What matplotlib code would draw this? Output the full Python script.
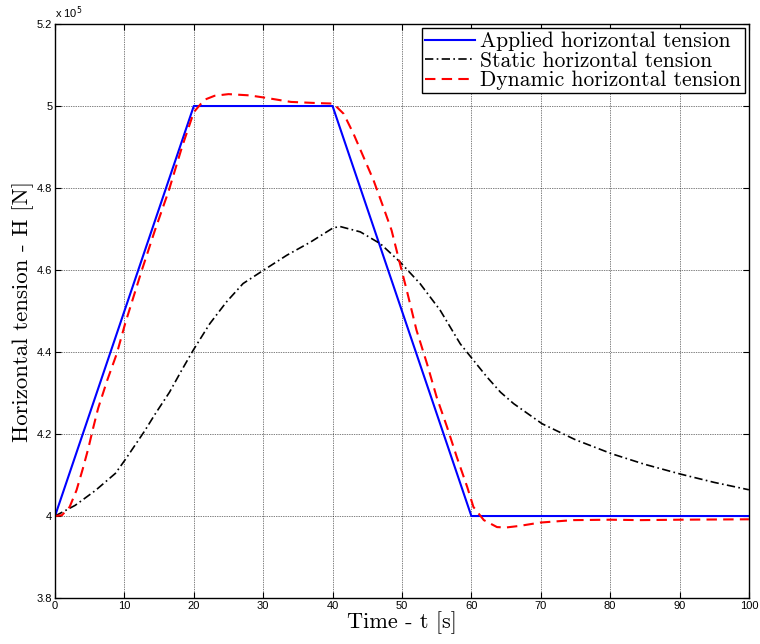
import matplotlib
matplotlib.use("Agg")
import matplotlib.pyplot as plt
from matplotlib.ticker import FuncFormatter

# time [s] and tension [x 1e5 N]
t_applied = [0, 20, 40, 60, 100]
h_applied = [4.0, 5.0, 5.0, 4.0, 4.0]

t_static = [0, 2.9, 5.8, 8.7, 10.1, 12.9, 14.4, 16.5, 18.2, 19.9, 22.3, 24.7, 27.1,
            30.0, 33.4, 36.8, 40.1, 41.1, 44.0, 46.9, 49.7, 52.6, 55.5, 58.4, 60.3,
            62.2, 64.2, 66.1, 70.2, 75, 80.2, 85, 90.2, 95, 100]
h_static = [4.0, 4.026, 4.062, 4.104, 4.137, 4.207, 4.248, 4.302, 4.354, 4.404, 4.469,
            4.522, 4.567, 4.599, 4.636, 4.668, 4.703, 4.706, 4.693, 4.664, 4.620,
            4.567, 4.502, 4.420, 4.380, 4.340, 4.302, 4.274, 4.225, 4.186, 4.152,
            4.126, 4.102, 4.082, 4.064]

t_dynamic = [0, 1.0, 2.1, 3.1, 4.0, 4.8, 5.5, 6.2, 7.5, 8.9, 10.1, 12.5, 14.4, 16.4,
             18.3, 20.0, 21.5, 23, 25, 28, 30, 34, 38, 40.1, 41.6, 43.0, 44.45, 45.9,
             47.3, 48.5, 49.7, 50.7, 52.1, 53.6, 55.0, 56.5, 57.9, 59.4, 60.3, 61.8,
             63.7, 65, 67, 69.9, 74.7, 80, 84.4, 90, 100]
h_dynamic = [4.0, 4.002, 4.022, 4.063, 4.115, 4.165, 4.215, 4.262, 4.33, 4.396, 4.469,
             4.599, 4.697, 4.794, 4.9, 4.985, 5.015, 5.025, 5.029, 5.026, 5.021, 5.01,
             5.007, 5.006, 4.981, 4.933, 4.876, 4.819, 4.754, 4.697, 4.616, 4.550,
             4.453, 4.372, 4.290, 4.217, 4.144, 4.071, 4.022, 3.99, 3.973, 3.972,
             3.976, 3.984, 3.99, 3.991, 3.99, 3.991, 3.992]

serif = ["cmr10", "DejaVu Serif"]

fig = plt.figure(figsize=(7.6, 6.44), dpi=100)
ax = fig.add_axes([0.0724, 0.0714, 0.913, 0.8913])

ax.plot(t_applied, h_applied, color="blue", lw=1.5, label="Applied horizontal tension")
ax.plot(t_static, h_static, color="black", lw=1.2, linestyle=(0, (5, 2, 1, 2)),
        label="Static horizontal tension")
ax.plot(t_dynamic, h_dynamic, color="red", lw=1.5, linestyle=(0, (5, 3)),
        label="Dynamic horizontal tension")

ax.set_xlim(0, 100)
ax.set_ylim(3.8, 5.2)
ax.set_xticks(range(0, 101, 10))
ax.set_yticks([3.8, 4.0, 4.2, 4.4, 4.6, 4.8, 5.0, 5.2])
ax.yaxis.set_major_formatter(FuncFormatter(lambda v, p: "%g" % round(v, 1)))
ax.tick_params(direction="in", labelsize=8, length=4, top=True, right=True, pad=2)
for lab in ax.get_xticklabels() + ax.get_yticklabels():
    lab.set_family("Liberation Sans")
ax.grid(True, color="black", linestyle=(0, (1, 1.5)), lw=0.5)
for s in ax.spines.values():
    s.set_linewidth(1.0)

ax.text(0.0, 1.005, "x 10$^5$", transform=ax.transAxes, fontsize=8,
        family="Liberation Sans", ha="left", va="bottom")

ax.set_xlabel("Time - t [s]", fontsize=16, family=serif, labelpad=0)
ax.set_ylabel("Horizontal tension - H [N]", fontsize=16.5, family=serif, labelpad=2)

leg = ax.legend(loc="upper right", prop={"family": serif, "size": 15.5},
                fancybox=False, edgecolor="black", framealpha=1,
                borderpad=0.15, labelspacing=0.0, handlelength=2.3,
                handletextpad=0.25, borderaxespad=0.2)
leg.get_frame().set_linewidth(1.0)

fig.savefig("out.png", dpi=100)
